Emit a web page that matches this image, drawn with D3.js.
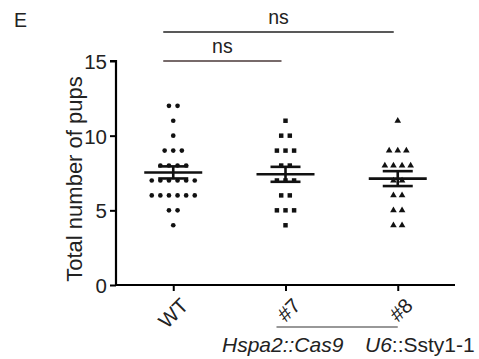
<!DOCTYPE html>
<html>
<head>
<meta charset="utf-8">
<script src="https://cdn.jsdelivr.net/npm/d3@7"></script>
<style>
  body { margin: 0; background: #fff; }
  svg { font-family: "Liberation Sans", Arial, sans-serif; }
</style>
</head>
<body>
<div id="chart"></div>
<script>
// pups per litter
const groups = ["WT", "#7", "#8"];
const wtPups = [12, 12, 11, 10, 9, 9, 9, 8, 8, 8, 8, 7, 7, 7, 7, 7, 7, 6, 6, 6, 6, 6, 6, 5, 5, 4];
const line7Pups = [11, 10, 10, 9, 9, 9, 8, 8, 7, 7, 7, 6, 6, 5, 5, 5, 4];
const line8Pups = [11, 9, 9, 9, 8, 8, 8, 8, 7, 7, 6, 6, 5, 5, 4, 4];
const yTicks = [0, 5, 10, 15];
const comparisons = [
    { from: "WT", to: "#8", label: "ns", level: 0 },
    { from: "WT", to: "#7", label: "ns", level: 1 }
];

const width = 479, height = 359;
const svg = d3.select("#chart").append("svg")
    .attr("width", width)
    .attr("height", height);

const y = d3.scaleLinear().domain([0, 15]).range([285, 61]);
const x = d3.scalePoint().domain(groups).range([116, 455]).padding(0.51);

// y axis
const yAxis = svg.append("g")
    .attr("transform", "translate(116,0)")
    .call(d3.axisLeft(y).tickValues(yTicks).tickSize(6).tickPadding(3));
yAxis.select(".domain").attr("stroke-width", 2.2).attr("d", "M-6," + y(15) + "H0V" + y(0));
yAxis.selectAll(".tick line").attr("stroke-width", 2);
yAxis.selectAll(".tick text").attr("font-size", 20.5).attr("fill", "#222").attr("dy", "0.36em");

// x axis
const xAxis = svg.append("g")
    .attr("transform", "translate(0,285)")
    .call(d3.axisBottom(x).tickSize(6).tickFormat(""));
xAxis.select(".domain").attr("stroke-width", 2.2).attr("d", "M116,0H455");
xAxis.selectAll(".tick line").attr("stroke-width", 2);

xAxis.selectAll(".tick").append("text")
    .attr("transform", "translate(5,11) rotate(-45)")
    .attr("text-anchor", "end")
    .attr("dy", "0.75em")
    .attr("font-size", 20.5)
    .attr("fill", "#222")
    .text(d => d);

svg.append("text")
    .attr("transform", "translate(82," + ((y(0) + y(15)) / 2 + 6) + ") rotate(-90)")
    .attr("text-anchor", "middle")
    .attr("font-size", 22)
    .attr("fill", "#222")
    .text("Total number of pups");

svg.append("text")
    .attr("x", 14).attr("y", 27)
    .attr("font-size", 19.5)
    .attr("fill", "#222")
    .text("E");

// points
const series = [
    { name: "WT", values: wtPups, shape: d3.symbolCircle, size: 17 },
    { name: "#7", values: line7Pups, shape: d3.symbolSquare, size: 20 },
    { name: "#8", values: line8Pups, shape: d3.symbolTriangle, size: 19 }
];
const spacing = 8.6;

series.forEach(s => {
    const rows = d3.groups(s.values, v => v);
    const pts = [];
    rows.forEach(([v, arr]) => {
        arr.forEach((_, i) => {
            pts.push({ v: v, off: (i - (arr.length - 1) / 2) * spacing });
        });
    });
    svg.append("g").selectAll("path")
        .data(pts)
        .enter()
        .append("path")
        .attr("d", d3.symbol().type(s.shape).size(s.size))
        .attr("transform", d => "translate(" + (x(s.name) + d.off) + "," + y(d.v) + ")")
        .attr("fill", "#111");

    const m = d3.mean(s.values);
    const sem = d3.deviation(s.values) / Math.sqrt(s.values.length);
    const cx = x(s.name);
    const g = svg.append("g").attr("stroke", "#111").attr("stroke-width", 2.6);
    g.append("line").attr("x1", cx - 29).attr("x2", cx + 29).attr("y1", y(m)).attr("y2", y(m));
    g.append("line").attr("x1", cx).attr("x2", cx).attr("y1", y(m + sem)).attr("y2", y(m - sem));
    g.append("line").attr("x1", cx - 15).attr("x2", cx + 15).attr("y1", y(m + sem)).attr("y2", y(m + sem));
    g.append("line").attr("x1", cx - 15).attr("x2", cx + 15).attr("y1", y(m - sem)).attr("y2", y(m - sem));
});

// significance lines
const levelY = [32, 61];
comparisons.forEach(c => {
    const x1 = x(c.from) - 10, x2 = x(c.to) - 4;
    svg.append("line")
        .attr("x1", x1).attr("x2", x2)
        .attr("y1", levelY[c.level]).attr("y2", levelY[c.level])
        .attr("stroke", c.level == 1 ? "#4a3838" : "#222")
        .attr("stroke-width", 1.6);
    svg.append("text")
        .attr("x", (x1 + x2) / 2)
        .attr("y", levelY[c.level] - 8)
        .attr("text-anchor", "middle")
        .attr("font-size", 19.5)
        .attr("fill", "#222")
        .text(c.label);
});

// transgene bracket under #7 and #8
svg.append("line")
    .attr("x1", x("#7") - 9).attr("x2", x("#8"))
    .attr("y1", 327).attr("y2", 327)
    .attr("stroke", "#333").attr("stroke-width", 1.2);

const lab = svg.append("text")
    .attr("y", 352)
    .attr("font-size", 21)
    .attr("fill", "#222");
lab.append("tspan").attr("x", 222).attr("font-style", "italic").text("Hspa2::Cas9");
lab.append("tspan").attr("x", 365).attr("font-style", "italic").text("U6");
lab.append("tspan").text("::Ssty1-1");
</script>
</body>
</html>
